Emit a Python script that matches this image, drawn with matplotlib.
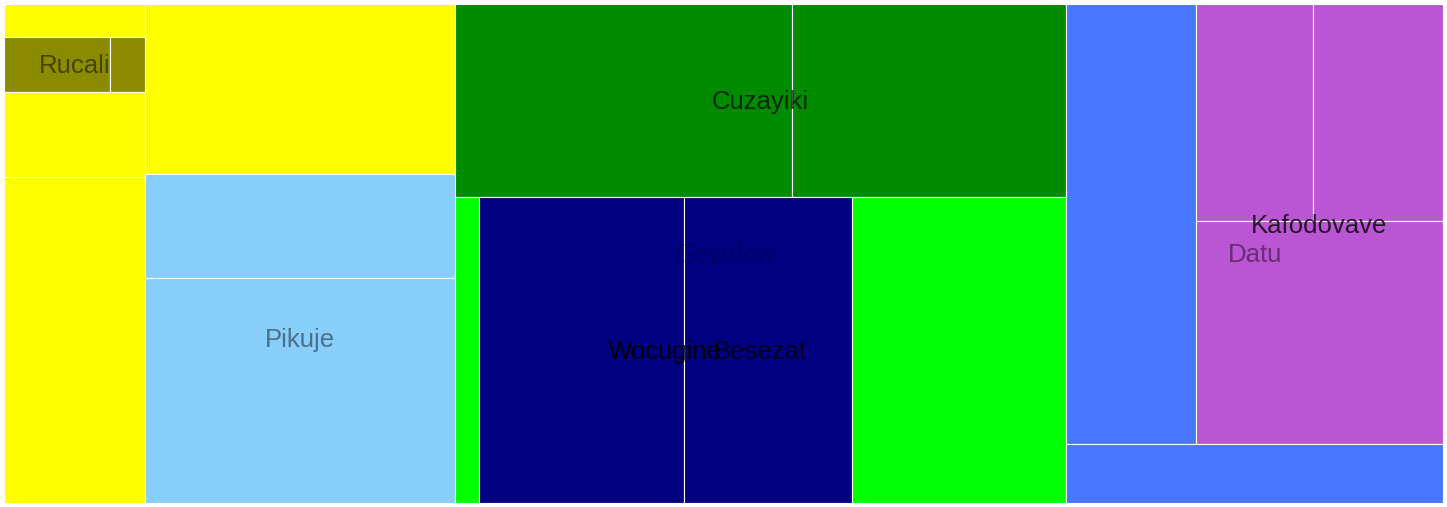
import matplotlib.pyplot as plt
from matplotlib.patches import Rectangle

# leaf values (areas), grouped by the block they sit in
yellow_left = [46.0, 120.3, 460.6]      # stripes around Rucali
rucali = [59.6, 19.6]
yellow_top = [523.8]
pikuje = [321.4, 696.8]
cuzayiki = [654.0, 530.2]
lime_left = [73.3]
wocugine = [626.3, 514.8]
lime_right = [655.3]
datu_blue = [568.3]
kafodovave_top = [254.5, 283.8]
kafodovave_bottom = [551.9]
datu_bottom = [220.3]

YELLOW = '#FFFF00'
OLIVE = '#8B8B00'
LBLUE = '#87CEFA'
GREEN = '#008B00'
LIME = '#00FF00'
NAVY = '#000080'
BLUE = '#4876FF'
PURPLE = '#BA55D3'


def leaves(vals, color):
    return [{'v': v, 'color': color} for v in vals]


def node(split, kids, label=None, lab_alpha=0.6, dx=0.0):
    return {'split': split, 'kids': kids, 'label': label,
            'alpha': lab_alpha, 'dx': dx}


def total(n):
    if 'v' in n:
        return n['v']
    return sum(total(k) for k in n['kids'])


tree = node('x', [
    node('x', [
        node('y', [
            leaves(yellow_left[:1], YELLOW)[0],
            node('x', leaves(rucali, OLIVE), 'Rucali', 0.5),
            *leaves(yellow_left[1:], YELLOW),
        ]),
        node('y', [
            *leaves(yellow_top, YELLOW),
            node('y', leaves(pikuje, LBLUE), 'Pikuje', 0.45),
        ]),
    ]),
    node('y', [
        node('x', leaves(cuzayiki, GREEN), 'Cuzayiki', 0.7),
        node('x', [
            *leaves(lime_left, LIME),
            node('x', leaves(wocugine, NAVY), 'Wocugine', 0.9),
            *leaves(lime_right, LIME),
        ], 'Besezat', 0.75),
    ], 'Geyofow', 0.2, dx=-35),
    node('y', [
        node('x', [
            *leaves(datu_blue, BLUE),
            node('y', [
                node('x', leaves(kafodovave_top, PURPLE)),
                *leaves(kafodovave_bottom, PURPLE),
            ], 'Kafodovave', 0.8),
        ]),
        *leaves(datu_bottom, BLUE),
    ], 'Datu', 0.45),
])

W, H = 1439.0, 499.0
rects = []
labels = []


def layout(n, x, y, w, h):
    if 'v' in n:
        rects.append((x, y, w, h, n['color']))
        return
    t = total(n)
    pos = 0.0
    for k in n['kids']:
        f = total(k) / t
        if n['split'] == 'x':
            layout(k, x + pos * w, y, f * w, h)
        else:
            layout(k, x, y + pos * h, w, f * h)
        pos += f
    if n['label']:
        labels.append((x + w / 2 + n['dx'], y + h / 2, n['label'], n['alpha']))


layout(tree, 0, 0, W, H)

fig = plt.figure(figsize=(14.47, 5.07), dpi=100)
ax = fig.add_axes([4 / 1447, 4 / 507, 1439 / 1447, 499 / 507])
for x, y, w, h, c in rects:
    ax.add_patch(Rectangle((x, y), w, h, facecolor=c, edgecolor='white', linewidth=0.8))
for x, y, s, a in labels:
    ax.text(x, y + 1.5, s, ha='center', va='center', fontsize=18.5,
            family='Liberation Sans', color='black', alpha=a)
ax.set_xlim(0, W)
ax.set_ylim(H, 0)
ax.axis('off')
fig.savefig('out.png', dpi=100)
